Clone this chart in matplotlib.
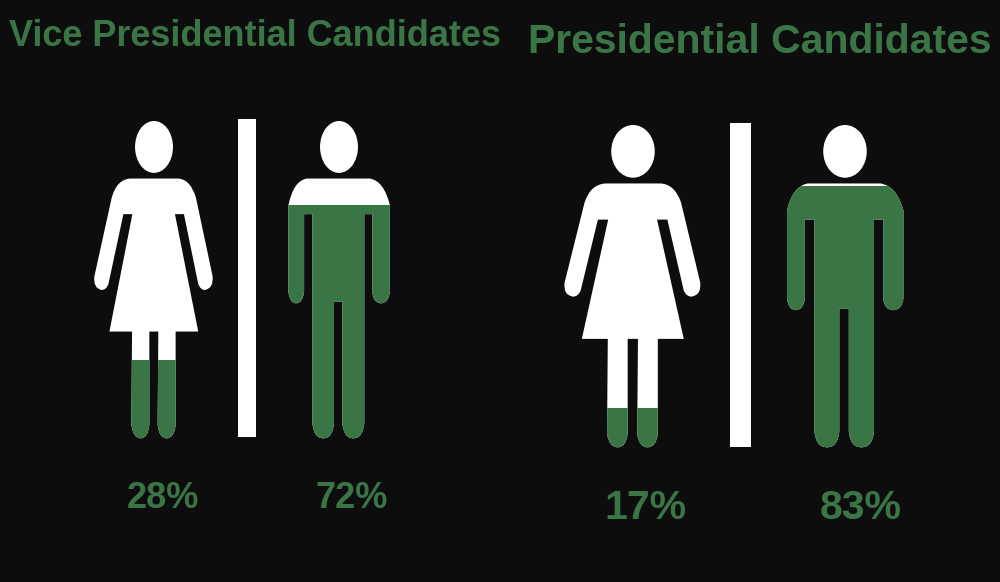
import numpy as np
import matplotlib
matplotlib.use('Agg')
import matplotlib.pyplot as plt
from matplotlib.path import Path
from matplotlib.patches import PathPatch, Ellipse, Rectangle

titles = ['Vice Presidential Candidates', 'Presidential Candidates']
title_x = [255, 759.5]
title_y = [37, 42]
title_size = [25.9, 29.5]

# woman, man for each group
labels = [['28%', '72%'], ['17%', '83%']]
# height of the green part, share of the figure
fill_levels = [[0.245, 0.735], [0.12, 0.81]]
centers = [[154, 339], [633, 845]]
tops = [121, 125]
bottoms = [438, 447]
x_stretch = [1.0, 1.13]
label_x = [[163, 352], [645, 861]]
label_y = [498, 508]
label_size = [26, 29.5]
divider_x = [[238, 256], [730, 751]]
divider_y = [[119, 437], [123, 447]]

BG = '#0d0d0d'
GREEN = '#3a7546'
M, L, Q, Z = Path.MOVETO, Path.LINETO, Path.CURVE3, Path.CLOSEPOLY

# outlines drawn in the units of a 3x crop, y goes down
woman_outline = [
    (M, 150, 205), (L, 295, 205), (Q, 332, 208), (Q, 348, 262),
    (L, 398, 498), (Q, 402, 535), (Q, 375, 540), (Q, 362, 540), (Q, 355, 522),
    (L, 312, 312), (L, 285, 312), (L, 355, 665), (L, 287, 665),
    (L, 287, 945), (Q, 283, 986), (Q, 260, 986), (Q, 237, 986), (Q, 233, 945),
    (L, 235, 665), (L, 208, 665),
    (L, 208, 945), (Q, 204, 986), (Q, 182, 986), (Q, 159, 986), (Q, 154, 945),
    (L, 156, 665), (L, 88, 665), (L, 157, 312), (L, 130, 312),
    (L, 85, 522), (Q, 78, 540), (Q, 65, 540), (Q, 38, 535), (Q, 43, 498),
    (L, 95, 262), (Q, 110, 208), (Q, 150, 205), (Z, 150, 205),
]
man_outline = [
    (M, 680, 205), (L, 870, 205), (Q, 912, 212), (Q, 930, 285),
    (L, 930, 545), (Q, 926, 580), (Q, 903, 580), (Q, 880, 580), (Q, 877, 545),
    (L, 877, 312), (L, 853, 312),
    (L, 853, 940), (Q, 849, 986), (Q, 820, 986), (Q, 791, 986), (Q, 787, 940),
    (L, 787, 575), (L, 762, 575),
    (L, 762, 940), (Q, 758, 986), (Q, 730, 986), (Q, 701, 986), (Q, 697, 940),
    (L, 697, 312), (L, 672, 312),
    (L, 672, 545), (Q, 668, 580), (Q, 648, 580), (Q, 629, 580), (Q, 625, 545),
    (L, 625, 285), (Q, 640, 212), (Q, 680, 205), (Z, 680, 205),
]
outlines = [woman_outline, man_outline]
outline_center = [222, 777]
outline_top, outline_bottom = 32, 985
head_y, head_rx, head_ry = 110, 57, 78


def draw_person(ax, outline, mid, cx, top, bottom, stretch, level):
    scale = (bottom - top) / (outline_bottom - outline_top)
    codes = [o[0] for o in outline]
    xs = np.array([o[1] for o in outline], dtype=float)
    ys = np.array([o[2] for o in outline], dtype=float)
    verts = np.column_stack([cx + (xs - mid) * scale * stretch,
                             top + (ys - outline_top) * scale])
    ax.add_patch(Ellipse((cx, top + (head_y - outline_top) * scale),
                         2 * head_rx * scale * stretch, 2 * head_ry * scale,
                         fc='white', ec='none'))
    body = PathPatch(Path(verts, codes), fc='white', ec='none')
    ax.add_patch(body)
    fill_top = bottom - level * (bottom - top)
    rect = Rectangle((cx - 100, fill_top), 200, bottom - fill_top,
                     fc=GREEN, ec='none')
    ax.add_patch(rect)
    rect.set_clip_path(body)


fig = plt.figure(figsize=(10, 5.82), dpi=100, facecolor=BG)
ax = fig.add_axes([0, 0, 1, 1])
ax.set_xlim(0, 1000)
ax.set_ylim(582, 0)
ax.axis('off')

font = ['Liberation Sans', 'DejaVu Sans']
for g in range(2):
    ax.text(title_x[g], title_y[g], titles[g], color=GREEN, ha='center', va='center',
            fontsize=title_size[g], fontweight='bold', family=font)
    for i in range(2):
        draw_person(ax, outlines[i], outline_center[i], centers[g][i],
                    tops[g], bottoms[g], x_stretch[g], fill_levels[g][i])
        ax.text(label_x[g][i], label_y[g], labels[g][i], color=GREEN, ha='center',
                va='center', fontsize=label_size[g], fontweight='bold', family=font)
    ax.add_patch(Rectangle((divider_x[g][0], divider_y[g][0]),
                           divider_x[g][1] - divider_x[g][0],
                           divider_y[g][1] - divider_y[g][0], fc='white', ec='none'))

fig.savefig('out.png', dpi=100, facecolor=BG)
